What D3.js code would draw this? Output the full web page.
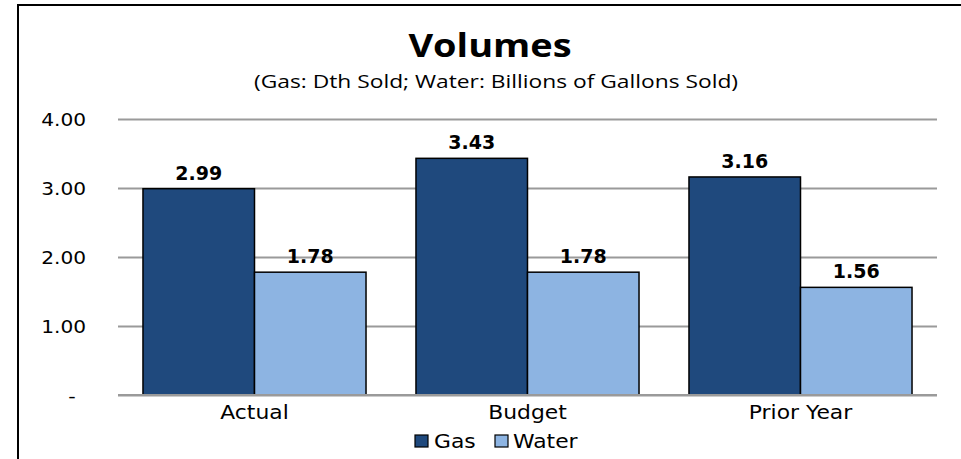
<!DOCTYPE html>
<html>
<head>
<meta charset="utf-8">
<script src="https://cdn.jsdelivr.net/npm/d3@7"></script>
<style>
  html, body { margin: 0; padding: 0; background: #fff; }
  svg { display: block; }
</style>
</head>
<body>
<svg id="chart" width="961" height="459"></svg>
<script>
// Volumes by scenario
const categories = ["Actual", "Budget", "Prior Year"];
const seriesNames = ["Gas", "Water"];
const gasValues = [2.99, 3.43, 3.16];
const waterValues = [1.78, 1.78, 1.56];
const tickValues = [0, 1, 2, 3, 4];
const titleText = "Volumes";
const subtitleText = "(Gas: Dth Sold; Water: Billions of Gallons Sold)";

const colors = { Gas: "#1F497D", Water: "#8DB4E2" };
const SX = 1.15; // horizontal text stretch

const svg = d3.select("#chart");
const plot = { left: 118, right: 937, top: 119, bottom: 395 };

// outer frame
svg.append("rect")
  .attr("x", 18).attr("y", 5)
  .attr("width", 980).attr("height", 480)
  .attr("fill", "#fff").attr("stroke", "#000").attr("stroke-width", 2);

// stretched text helper
function label(parent, x, y, text, opts) {
  return parent.append("text")
    .attr("transform", `translate(${x},${y}) scale(${opts.sx ?? SX},1)`)
    .attr("text-anchor", opts.anchor || "middle")
    .attr("font-family", opts.family || "'DejaVu Sans', Verdana, sans-serif")
    .attr("font-size", opts.size)
    .attr("font-weight", opts.weight || "normal")
    .attr("fill", "#000")
    .text(text);
}

// title & subtitle
label(svg, 490, 57, titleText, { size: 33, weight: "bold", family: "'Open Sans', sans-serif" });
label(svg, 496, 88, subtitleText, { size: 19, sx: 1.2, family: "'Open Sans', sans-serif" });

// scales
const x0 = d3.scaleBand()
  .domain(categories)
  .range([plot.left, plot.right])
  .paddingInner(0.183)
  .paddingOuter(0.0915);
const x1 = d3.scaleBand()
  .domain(seriesNames)
  .range([0, x0.bandwidth()])
  .padding(0);
const y = d3.scaleLinear().domain([0, 4]).range([plot.bottom, plot.top]);

// gridlines + y axis
const yAxis = d3.axisLeft(y)
  .tickValues(tickValues)
  .tickSize(-(plot.right - plot.left))
  .tickPadding(32)
  .tickFormat(d => d === 0 ? "-" : d3.format(".2f")(d));
const gy = svg.append("g")
  .attr("transform", `translate(${plot.left},0)`)
  .call(yAxis);
gy.select(".domain").remove();
gy.selectAll(".tick line").attr("stroke", "#9a9a9a").attr("stroke-width", 2);
gy.selectAll(".tick").each(function (d) {
  const g = d3.select(this);
  const txt = g.select("text").text();
  g.select("text").remove();
  if (d === 0) {
    label(g, 72 - plot.left, 6, txt, { size: 18, anchor: "middle" });
  } else {
    label(g, 86 - plot.left, 6, txt, { size: 17.5, anchor: "end" });
  }
});

// bars
const rows = categories.map((c, i) => ({ cat: c, Gas: gasValues[i], Water: waterValues[i] }));
const groups = svg.append("g").selectAll("g")
  .data(rows).join("g")
  .attr("transform", d => `translate(${x0(d.cat)},0)`);

const bars = groups.selectAll("g.bar")
  .data(d => seriesNames.map(s => ({ key: s, value: d[s] })))
  .join("g").attr("class", "bar");

bars.append("rect")
  .attr("x", d => x1(d.key))
  .attr("y", d => y(d.value))
  .attr("width", x1.bandwidth())
  .attr("height", d => y(0) - y(d.value))
  .attr("fill", d => colors[d.key])
  .attr("stroke", "#000")
  .attr("stroke-width", 1.5);

bars.each(function (d) {
  label(d3.select(this), x1(d.key) + x1.bandwidth() / 2, y(d.value) - 9,
    d3.format(".2f")(d.value), { size: 19, weight: "bold", sx: 1.0 });
});

// baseline
svg.append("line")
  .attr("x1", plot.left).attr("x2", plot.right)
  .attr("y1", y(0)).attr("y2", y(0))
  .attr("stroke", "#9a9a9a").attr("stroke-width", 2);

// category labels
categories.forEach(c => {
  label(svg, x0(c) + x0.bandwidth() / 2, 419, c, { size: 19 });
});

// legend
const legendItems = [
  { key: "Gas", sq: 415, tx: 434 },
  { key: "Water", sq: 495, tx: 513 }
];
legendItems.forEach(it => {
  svg.append("rect")
    .attr("x", it.sq).attr("y", 435)
    .attr("width", 13).attr("height", 12)
    .attr("fill", colors[it.key])
    .attr("stroke", "#000").attr("stroke-width", 1.2);
  label(svg, it.tx, 448, it.key, { size: 19, anchor: "start" });
});
</script>
</body>
</html>
